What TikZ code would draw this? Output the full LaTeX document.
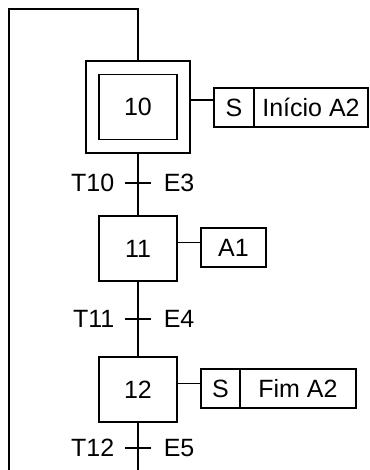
\documentclass[tikz,border=0pt]{standalone}
\usepackage{fontspec}
\setmainfont{Liberation Sans}
\usetikzlibrary{positioning}

\begin{document}
\begin{tikzpicture}[x=1pt, y=-1pt, line width=1.5pt, font=\fontsize{25}{29}\selectfont,
        stepbox/.style={draw, minimum width=78pt, minimum height=65pt, inner sep=0pt},
        actbox/.style={draw, minimum height=39pt, inner sep=0pt, outer sep=0pt},
        lbl/.style={inner sep=0pt}]
        \useasboundingbox (0,0) rectangle (369,470);

        % Steps
        \node[stepbox, minimum width=104pt, minimum height=92pt] (s10o) at (138,107) {};
        \node[stepbox] (s10) at (138,107) {10};
        \node[stepbox] (s11) at (138,248.5) {11};
        \node[stepbox] (s12) at (138,389.5) {12};

        % Transitions
        \coordinate (t10) at (138,183);
        \coordinate (t11) at (138,319);
        \coordinate (t12) at (138,448);
        \coordinate (bot) at (138,470);
        \coordinate (loop) at (9,470);

        \draw (s10o) -- (s11) -- (s12) -- (bot);
        \draw ([xshift=-13pt]t10) -- ([xshift=13pt]t10);
        \draw ([xshift=-13pt]t11) -- ([xshift=13pt]t11);
        \draw ([xshift=-13pt]t12) -- ([xshift=13pt]t12);
        \node[lbl, left=23pt of t10] (t10l) {T10};
        \node[lbl, right=25pt of t10] (t10r) {E3};
        \node[lbl, left=23pt of t11] (t11l) {T11};
        \node[lbl, right=25pt of t11] (t11r) {E4};
        \node[lbl, left=23pt of t12] (t12l) {T12};
        \node[lbl, right=25pt of t12] (t12r) {E5};

        % Return loop
        \draw (loop) |- ([yshift=51pt]s10o.north) -- (s10o.north);

        % Actions
        \node[actbox, minimum width=40pt] (a10s) at (234,107.5) {S};
        \node[actbox, minimum width=114pt, right=0pt of a10s] (a10t) {Início A2};
        \node[actbox, minimum width=65pt] (a11) at (233.5,247.5) {A1};
        \node[actbox, minimum width=39pt] (a12s) at (220.5,388.5) {S};
        \node[actbox, minimum width=116pt, right=0pt of a12s] (a12t) {Fim A2};

        \draw ([yshift=7pt]s10o.east) -- ([yshift=7pt]s10o.east -| a10s.west);
        \draw ([yshift=6pt]s11.east) -- ([yshift=6pt]s11.east -| a11.west);
        \draw ([yshift=6pt]s12.east) -- ([yshift=6pt]s12.east -| a12s.west);
    \end{tikzpicture}
\end{document}
